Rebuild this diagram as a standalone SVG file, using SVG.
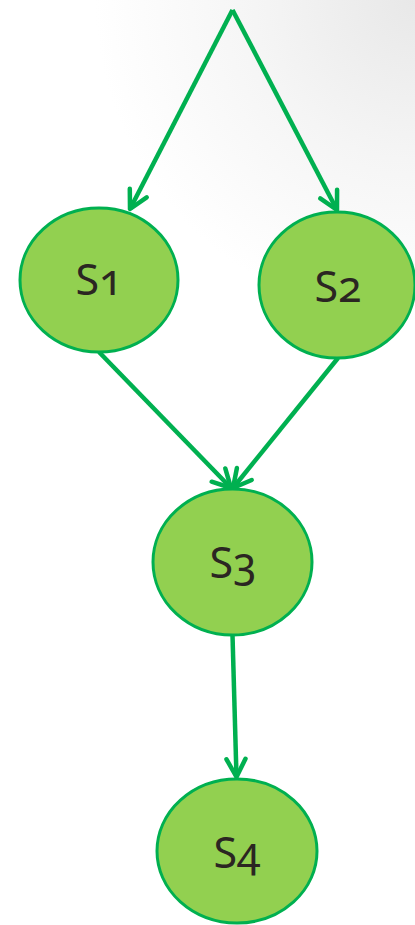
<svg xmlns="http://www.w3.org/2000/svg" width="415" height="925" viewBox="0 0 415 925">
<defs>
<radialGradient id="bg" cx="415" cy="0" r="320" gradientUnits="userSpaceOnUse">
<stop offset="0" stop-color="#e8e8e8"/>
<stop offset="0.5" stop-color="#f5f5f5"/>
<stop offset="1" stop-color="#ffffff"/>
</radialGradient>
<marker id="arr" markerUnits="userSpaceOnUse" markerWidth="40" markerHeight="40" viewBox="-25 -20 40 40" refX="0" refY="0" orient="auto" overflow="visible">
<path d="M -18 -9.5 L 0 0 L -18 9.5" fill="none" stroke="#00b050" stroke-width="4.5" stroke-linecap="round" stroke-linejoin="round"/>
</marker>
<style>
.node ellipse { fill: #92d050; stroke: #00b050; stroke-width: 3; }
.node text { font-family: "Noto Sans", "Open Sans", sans-serif; font-size: 43px; fill: #2b2622; text-anchor: middle; font-variant-numeric: oldstyle-nums; }
.edge { fill: none; stroke: #00b050; stroke-width: 4.5; marker-end: url(#arr); }
</style>
</defs>
<rect x="0" y="0" width="415" height="925" fill="#ffffff"/>
<rect x="0" y="0" width="415" height="925" fill="url(#bg)"/>
<g id="connectors">
<line class="edge" x1="232.5" y1="10" x2="130" y2="209"/>
<line class="edge" x1="232.5" y1="10" x2="337" y2="210"/>
<line class="edge" x1="99" y1="352" x2="231" y2="488"/>
<line class="edge" x1="338" y1="358" x2="233" y2="488"/>
<line class="edge" x1="232.5" y1="635" x2="236.5" y2="777"/>
</g>
<g id="S1" class="node">
<ellipse cx="99" cy="280" rx="79" ry="72"/>
<text x="99" y="295">S1</text>
</g>
<g id="S2" class="node">
<ellipse cx="337" cy="285" rx="78" ry="73"/>
<text x="338" y="302">S2</text>
</g>
<g id="S3" class="node">
<ellipse cx="232.5" cy="562" rx="79.5" ry="73"/>
<text x="233" y="578">S3</text>
</g>
<g id="S4" class="node">
<ellipse cx="237" cy="851" rx="80" ry="72"/>
<text x="237" y="868">S4</text>
</g>
</svg>
